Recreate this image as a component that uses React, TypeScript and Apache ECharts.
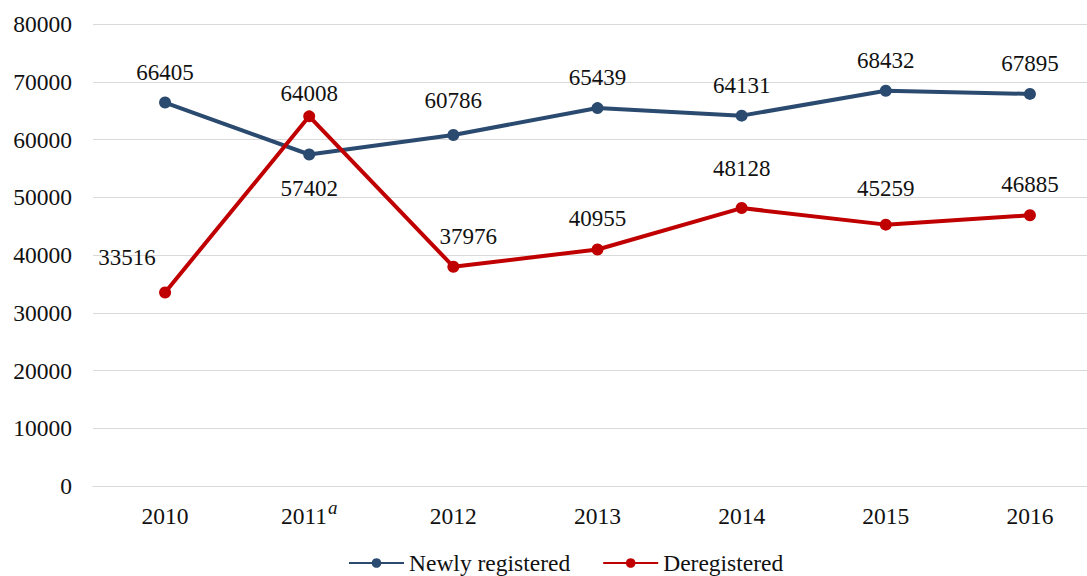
import React, { useEffect, useRef } from "react";
import * as echarts from "echarts";

const years = ["2010", "2011", "2012", "2013", "2014", "2015", "2016"];
const newlyRegistered = [66405, 57402, 60786, 65439, 64131, 68432, 67895];
const deregistered = [33516, 64008, 37976, 40955, 48128, 45259, 46885];
const yTicks = { min: 0, max: 80000, interval: 10000 };
const footnoted = { "2011": "a" } as Record<string, string>;

const FONT = "Liberation Serif, Times New Roman, serif";
const NAVY = "#2A4A6F";
const RED = "#C00000";
const FS = 23.5;
const LFS = 23;

// label placement tweaks (layout only), keyed by point index
const newlyLabelTweaks: Record<number, any> = {
  1: { position: "bottom", distance: 16 },
  2: { offset: [0, -4] },
};
const deregLabelTweaks: Record<number, any> = {
  0: { offset: [-38, -4] },
  1: { offset: [0, 8] },
  2: { offset: [15, 0] },
  4: { offset: [0, -9] },
  5: { offset: [0, -6] },
};

export default function App() {
  const ref = useRef<HTMLDivElement>(null);
  useEffect(() => {
    if (!ref.current) return;
    const chart = echarts.init(ref.current, null, { renderer: "svg" });
    const labelBase = {
      show: true,
      fontFamily: FONT,
      fontSize: LFS,
      color: "#111",
      distance: 13,
      position: "top",
    };
    const withTweaks = (vals: number[], tweaks: Record<number, any>) =>
      vals.map((v, i) => (tweaks[i] ? { value: v, label: tweaks[i] } : v));
    chart.setOption({
      animation: false,
      textStyle: { fontFamily: FONT },
      grid: { left: 93, right: 18, top: 24, bottom: 90, containLabel: false },
      legend: {
        top: 546,
        left: 343,
        itemWidth: 55,
        itemHeight: 12,
        itemGap: 32,
        textStyle: { fontFamily: FONT, fontSize: FS, color: "#111" },
        data: ["Newly registered", "Deregistered"],
      },
      xAxis: {
        type: "category",
        data: years,
        axisLine: { show: true, lineStyle: { color: "#d9d9d9", width: 1 } },
        axisTick: { show: false },
        axisLabel: {
          interval: 0,
          margin: 16,
          fontFamily: FONT,
          fontSize: FS,
          lineHeight: 28,
          color: "#111",
          formatter: (v: string) =>
            footnoted[v] ? `{m|${v}}{sup|${footnoted[v]}}` : `{m|${v}}`,
          rich: {
            m: {
              fontFamily: FONT,
              fontSize: FS,
              lineHeight: 28,
              color: "#111",
            },
            sup: {
              fontFamily: FONT,
              fontSize: 19,
              fontStyle: "italic",
              lineHeight: 8,
              color: "#111",
              padding: [0, 0, 18, 1],
            },
          },
        },
      },
      yAxis: {
        type: "value",
        min: yTicks.min,
        max: yTicks.max,
        interval: yTicks.interval,
        axisLine: { show: false },
        axisTick: { show: false },
        splitLine: { lineStyle: { color: "#d9d9d9", width: 1 } },
        axisLabel: {
          margin: 21,
          fontFamily: FONT,
          fontSize: FS,
          color: "#111",
          formatter: (v: number) => String(v),
        },
      },
      series: [
        {
          name: "Newly registered",
          type: "line",
          data: withTweaks(newlyRegistered, newlyLabelTweaks),
          symbol: "circle",
          symbolSize: 12,
          lineStyle: { color: NAVY, width: 4 },
          itemStyle: { color: NAVY },
          label: labelBase,
        },
        {
          name: "Deregistered",
          type: "line",
          data: withTweaks(deregistered, deregLabelTweaks),
          symbol: "circle",
          symbolSize: 12,
          lineStyle: { color: RED, width: 4 },
          itemStyle: { color: RED },
          label: labelBase,
        },
      ],
    });
    return () => chart.dispose();
  }, []);
  return (
    <div
      style={{
        position: "absolute",
        left: 0,
        top: 0,
        width: 1087,
        height: 576,
        overflow: "hidden",
        background: "#fff",
      }}
    >
      <div ref={ref} style={{ width: 1120, height: 576 }} />
    </div>
  );
}
